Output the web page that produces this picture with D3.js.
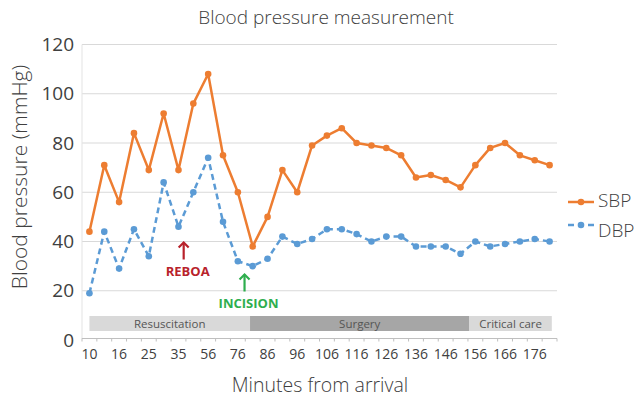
<!DOCTYPE html>
<html>
<head>
<meta charset="utf-8">
<script src="https://cdn.jsdelivr.net/npm/d3@7"></script>
<style>
  body { margin: 0; background: #fff; }
  svg { font-family: "Open Sans", "Noto Sans", sans-serif; }
</style>
</head>
<body>
<svg id="chart" width="635" height="401"></svg>
<script>
var sbp = [44,71,56,84,69,92,69,96,108,75,60,38,50,69,60,79,83,86,80,79,78,75,66,67,65,62,71,78,80,75,73,71];
var dbp = [19,44,29,45,34,64,46,60,74,48,32,30,33,42,39,41,45,45,43,40,42,42,38,38,38,35,40,38,39,40,41,40];
// only every other measurement is labelled on the axis
var tickLabels = ["10","16","25","35","56","76","86","96","106","116","126","136","146","156","166","176"];
var yTicks = [0,20,40,60,80,100,120];
// phases in measurement-index units
var phaseNames = ["Resuscitation", "Surgery", "Critical care"];
var phaseStart = [0, 10.82, 25.6];
var phaseEnd = [10.82, 25.6, 31.15];
var phaseFill = ["#d9d9d9", "#a6a6a6", "#d9d9d9"];
var notes = [
  {label: "REBOA", idx: 6.35, value: 40, color: "#b8222b"},
  {label: "INCISION", idx: 10.45, value: 27, color: "#2eae4e"}
];

var svg = d3.select("#chart");
var orange = "#ed7d31", blue = "#5b9bd5", textCol = "#404040";
var plotL = 82, plotR = 557, plotT = 44.5, plotB = 340;

var idx = d3.range(sbp.length);
var x = d3.scaleBand().domain(idx).range([plotL, plotR]);
var cx = function(i) { return x(i) + x.bandwidth() / 2; };
// linear version for phase bounds / notes
var xi = d3.scaleLinear().domain([0, 1]).range([cx(0), cx(1)]);
var y = d3.scaleLinear().domain([0, 120]).range([plotB, plotT]);

// gridlines
svg.append("g").selectAll("line")
  .data(yTicks.filter(function(d) { return d > 0; }))
  .enter().append("line")
  .attr("x1", plotL).attr("x2", plotR)
  .attr("y1", function(d) { return y(d); })
  .attr("y2", function(d) { return y(d); })
  .attr("stroke", "#d9d9d9").attr("stroke-width", 1.2);

// y axis line
svg.append("line")
  .attr("x1", plotL).attr("x2", plotL).attr("y1", plotT).attr("y2", y(0) - 1)
  .attr("stroke", "#e3e3e3").attr("stroke-width", 1);

// y labels
svg.append("g").selectAll("text")
  .data(yTicks).enter().append("text")
  .attr("x", 74).attr("y", function(d) { return y(d); })
  .attr("dy", "0.35em").attr("text-anchor", "end")
  .attr("font-size", 19).attr("fill", textCol)
  .text(function(d) { return d; });

// x axis: line + minor ticks at band edges
var axisY = y(0) - 1.5;
svg.append("line")
  .attr("x1", plotL).attr("x2", plotR).attr("y1", axisY).attr("y2", axisY)
  .attr("stroke", "#bfbfbf").attr("stroke-width", 1);
svg.append("g").selectAll("line")
  .data(d3.range(sbp.length + 1)).enter().append("line")
  .attr("x1", function(i) { return plotL + i * x.bandwidth(); })
  .attr("x2", function(i) { return plotL + i * x.bandwidth(); })
  .attr("y1", axisY).attr("y2", axisY + 3)
  .attr("stroke", "#bfbfbf").attr("stroke-width", 1);

var xAxis = d3.axisBottom(x)
  .tickValues(idx.filter(function(i) { return i % 2 === 0; }))
  .tickFormat(function(i) { return tickLabels[i / 2]; })
  .tickSize(0).tickPadding(0);
var gx = svg.append("g").attr("transform", "translate(0," + (axisY + 11) + ")").call(xAxis);
gx.select(".domain").remove();
gx.selectAll("text").attr("font-size", 14).attr("fill", textCol)
  .attr("font-family", "Open Sans, sans-serif");

// phase bar
var phases = svg.append("g");
phaseNames.forEach(function(name, i) {
  phases.append("rect")
    .attr("x", xi(phaseStart[i])).attr("width", xi(phaseEnd[i]) - xi(phaseStart[i]))
    .attr("y", 316).attr("height", 15)
    .attr("fill", phaseFill[i]);
  phases.append("text")
    .attr("x", (xi(phaseStart[i]) + xi(phaseEnd[i])) / 2).attr("y", 323.5)
    .attr("dy", "0.35em").attr("text-anchor", "middle")
    .attr("font-size", 11.5).attr("fill", "#555")
    .text(name);
});

// series
function drawSeries(vals, color, dash) {
  var line = d3.line().x(function(d, i) { return cx(i); }).y(function(d) { return y(d); });
  svg.append("path").datum(vals)
    .attr("d", line).attr("fill", "none")
    .attr("stroke", color).attr("stroke-width", 2.5)
    .attr("stroke-dasharray", dash)
    .attr("stroke-linejoin", "round");
  svg.append("g").selectAll("circle")
    .data(vals).enter().append("circle")
    .attr("cx", function(d, i) { return cx(i); })
    .attr("cy", function(d) { return y(d); })
    .attr("r", 3.3).attr("fill", color);
}
drawSeries(dbp, blue, "6,4");
drawSeries(sbp, orange, null);

// annotations
notes.forEach(function(n) {
  var ax = xi(n.idx), ty = y(n.value);
  var g = svg.append("g").attr("stroke", n.color).attr("stroke-width", 2.2).attr("fill", "none");
  g.append("line").attr("x1", ax).attr("x2", ax).attr("y1", ty + 1).attr("y2", ty + 18);
  g.append("path").attr("d", "M" + (ax - 5) + "," + (ty + 6) + "L" + ax + "," + (ty + 1) + "L" + (ax + 5) + "," + (ty + 6));
  svg.append("text")
    .attr("x", ax + 4).attr("y", ty + 34)
    .attr("text-anchor", "middle").attr("font-size", 13).attr("font-weight", "bold")
    .attr("fill", n.color).text(n.label);
});

// titles
svg.append("text").attr("x", 326).attr("y", 24).attr("text-anchor", "middle")
  .attr("font-size", 19).attr("fill", textCol).attr("font-weight", 300)
  .text("Blood pressure measurement");
svg.append("text").attr("x", 320).attr("y", 392).attr("text-anchor", "middle")
  .attr("font-size", 19.5).attr("fill", textCol).attr("font-weight", 300)
  .text("Minutes from arrival");
svg.append("text").attr("transform", "translate(27,177) rotate(-90)")
  .attr("text-anchor", "middle")
  .attr("font-size", 21).attr("fill", textCol).attr("font-weight", 300)
  .text("Blood pressure (mmHg)");

// legend
var legend = [{name: "SBP", color: orange, dash: null}, {name: "DBP", color: blue, dash: "6,4"}];
legend.forEach(function(l, i) {
  var ly = 202 + i * 23;
  var ty = 200.5 + i * 30;
  svg.append("line").attr("x1", 568).attr("x2", 594).attr("y1", ly).attr("y2", ly)
    .attr("stroke", l.color).attr("stroke-width", 2.5).attr("stroke-dasharray", l.dash);
  svg.append("circle").attr("cx", 581).attr("cy", ly).attr("r", 3.3).attr("fill", l.color);
  svg.append("text").attr("x", 598).attr("y", ty).attr("dy", "0.35em")
    .attr("font-size", 19).attr("fill", textCol).attr("font-weight", 300)
    .text(l.name);
});
</script>
</body>
</html>
